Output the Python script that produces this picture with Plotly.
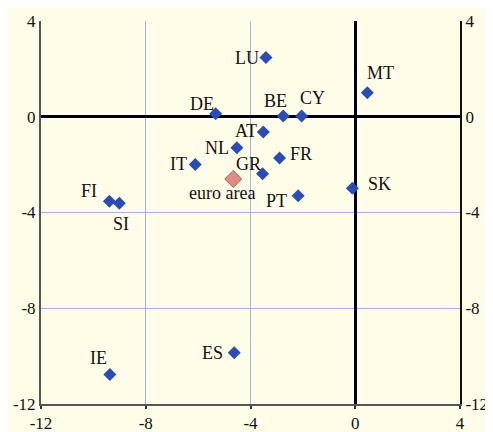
import plotly.graph_objects as go

# countries and values
paises = ['LU', 'MT', 'DE', 'BE', 'CY', 'AT', 'NL', 'IT', 'FR', 'GR',
          'PT', 'SK', 'FI', 'SI', 'IE', 'ES']
valor_x = [-3.41, 0.46, -5.33, -2.75, -2.05, -3.51, -4.52, -6.11, -2.89, -3.54,
           -2.18, -0.11, -9.39, -9.01, -9.37, -4.62]
valor_y = [2.47, 1.00, 0.13, 0.03, 0.03, -0.64, -1.29, -1.99, -1.72, -2.38,
           -3.30, -2.99, -3.53, -3.61, -10.77, -9.86]

zona_nome = 'euro area'
zona_x = [-4.66]
zona_y = [-2.60]

ticks_eixo = [-12, -8, -4, 0, 4]
ticks_texto = ['-12', '-8', '-4', '0', '4']

# label offsets in pixels (dx, dy) from each point
deslocamento = {
    'LU': (-19, 0), 'MT': (13, 20), 'DE': (-14, 10), 'BE': (-8, 15),
    'CY': (11, 18), 'AT': (-17, 1), 'NL': (-20, 0), 'IT': (-17, 0),
    'FR': (21, 4), 'GR': (-14, 10), 'PT': (-22, -5), 'SK': (27, 4),
    'FI': (-20, 10), 'SI': (2, -21), 'IE': (-11, 17), 'ES': (-22, 0),
    'euro area': (-11, -14),
}

fonte = dict(family='Liberation Serif', size=18, color='#111111')
fonte_ticks = dict(family='Liberation Serif', size=17, color='#111111')
fundo = '#FFFDE8'
grade = '#AAAEE2'

fig = go.Figure()

fig.add_trace(go.Scatter(
    x=valor_x, y=valor_y, mode='markers',
    marker=dict(symbol='diamond', size=10, color='#2A4CB4'),
    hoverinfo='text', text=paises, showlegend=False
))

fig.add_trace(go.Scatter(
    x=zona_x, y=zona_y, mode='markers',
    marker=dict(symbol='diamond', size=13, color='#DC8E82',
                line=dict(color='#C0504D', width=1)),
    hoverinfo='text', text=[zona_nome], showlegend=False
))

# invisible trace to carry the right-hand axis
fig.add_trace(go.Scatter(x=[None], y=[None], yaxis='y2', showlegend=False))

for nome, px_, py_ in zip(paises + [zona_nome], valor_x + zona_x, valor_y + zona_y):
    dx, dy = deslocamento[nome]
    fig.add_annotation(x=px_, y=py_, text=nome, showarrow=False,
                       xanchor='center', yanchor='middle',
                       xshift=dx, yshift=dy, font=fonte)

# white halo under the zero lines
fig.add_shape(type='line', x0=0, x1=0, y0=-12, y1=4, xref='x', yref='y',
              line=dict(color='white', width=7), layer='below')
fig.add_shape(type='line', x0=-12, x1=4, y0=0, y1=0, xref='x', yref='y',
              line=dict(color='white', width=7), layer='below')

# the page body adds an 8px margin, so the figure is 8px smaller
fig.update_layout(
    width=485, height=424,
    margin=dict(l=33, r=33, t=13, b=28),
    paper_bgcolor=fundo, plot_bgcolor=fundo,
    font=fonte,
    xaxis=dict(range=[-12, 4], tickvals=ticks_eixo, ticktext=ticks_texto,
               showgrid=True, gridcolor=grade, gridwidth=1,
               zeroline=True, zerolinecolor='black', zerolinewidth=3,
               showline=True, linecolor='#555555', linewidth=2,
               ticks='outside', ticklen=3, tickcolor='#333333', tickwidth=2,
               tickfont=fonte_ticks, automargin=False),
    yaxis=dict(range=[-12, 4], tickvals=ticks_eixo, ticktext=ticks_texto,
               showgrid=True, gridcolor=grade, gridwidth=1,
               zeroline=True, zerolinecolor='black', zerolinewidth=3,
               showline=True, linecolor='#555555', linewidth=2,
               ticks='', tickfont=fonte_ticks, automargin=False),
    yaxis2=dict(range=[-12, 4], tickvals=ticks_eixo, ticktext=ticks_texto,
                overlaying='y', side='right', showgrid=False, zeroline=False,
                showline=True, linecolor='#111111', linewidth=2,
                ticks='', tickfont=fonte_ticks, automargin=False),
)

fig.write_html('out.html')
